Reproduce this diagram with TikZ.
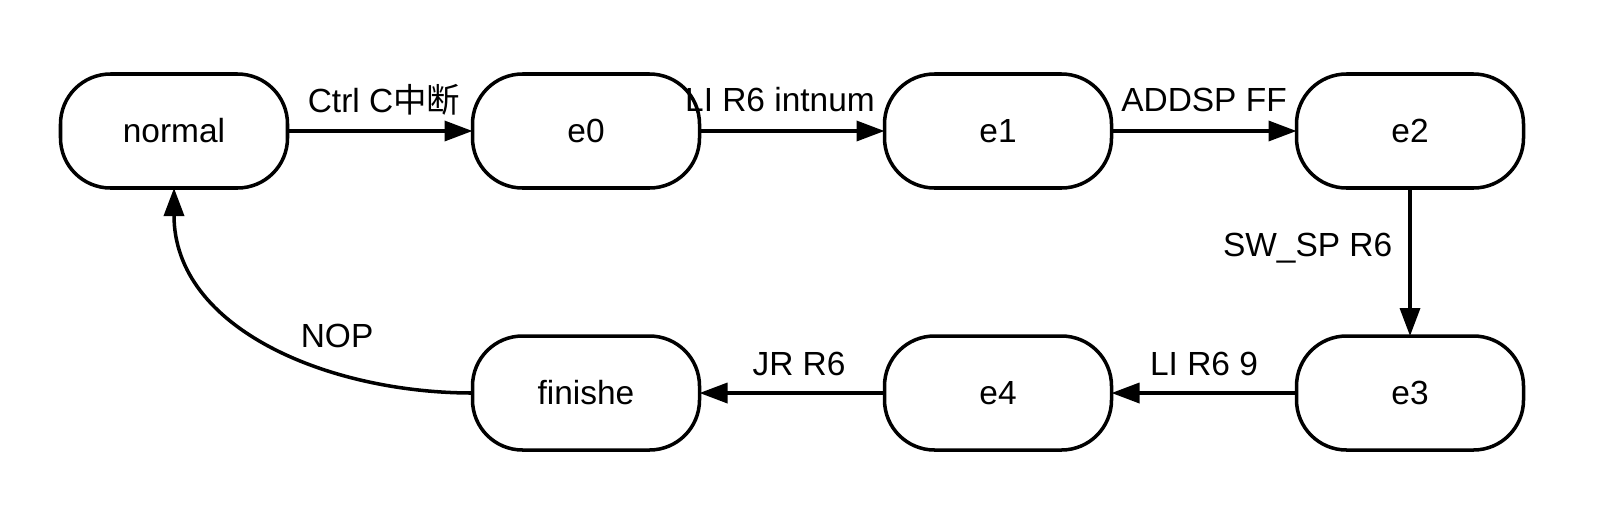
\documentclass[tikz,border=0pt]{standalone}
\usepackage{fontspec}
\setmainfont{Liberation Sans}
\newfontfamily\cjk{Noto Sans CJK SC}
\usetikzlibrary{
    arrows.meta,
    positioning
}
\newcommand{\statefont}{\fontsize{23.8}{28}\selectfont}
\tikzset{
    state/.style={
        draw, line width=2.5pt, rounded corners=1.25cm,
        minimum width=5.675cm, minimum height=2.85cm,
        inner sep=0pt, outer sep=0pt, font=\statefont
    },
    trans/.style={line width=2.5pt, -{Triangle[length=0.7cm,width=0.5cm]}},
    lbl/.style={font=\statefont, inner sep=0pt},
    node distance=4.625cm
}

\begin{document}
\begin{tikzpicture}
      \useasboundingbox (0,0) rectangle (40.275,-12.925);
      % top row
      \node[state] (normal) at (4.35,-3.275) {normal};
      \node[state, right=of normal] (e0) {e0};
      \node[state, right=of e0] (e1) {e1};
      \node[state, right=of e1] (e2) {e2};
      % bottom row
      \node[state, below=3.7cm of e2] (e3) {e3};
      \node[state, left=of e3] (e4) {e4};
      \node[state, left=of e4] (finishe) {finishe};
      % transitions
      \draw[trans] (normal) -- node[lbl, midway, yshift=0.775cm, xshift=0.1cm] {Ctrl C{\cjk 中断}} (e0);
      \draw[trans] (e0) -- node[lbl, midway, yshift=0.775cm, xshift=-0.3cm] {LI R6 intnum} (e1);
      \draw[trans] (e1) -- node[lbl, midway, yshift=0.775cm] {ADDSP FF} (e2);
      \draw[trans] (e2) -- node[lbl, midway, left=0.4cm, yshift=0.35cm] {SW\_SP R6} (e3);
      \draw[trans] (e3) -- node[lbl, midway, yshift=0.725cm] {LI R6 9} (e4);
      \draw[trans] (e4) -- node[lbl, midway, yshift=0.725cm, xshift=0.175cm] {JR R6} (finishe);
      \draw[trans] (finishe.west) to[out=180, in=-90]
            node[lbl, pos=0.5, xshift=1.675cm, yshift=0.2cm] {NOP} (normal.south);
\end{tikzpicture}
\end{document}
